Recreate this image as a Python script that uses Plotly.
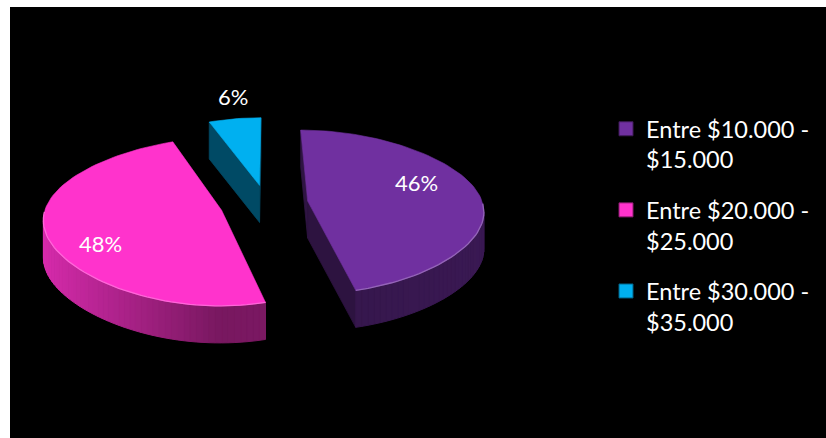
import numpy as np
import plotly.graph_objects as go

# ---- data ----
labels = ["Entre $10.000 - $15.000", "Entre $20.000 - $25.000", "Entre $30.000 - $35.000"]
values = [46, 48, 6]
colors = ["#7030A0", "#FF33CC", "#00B0F0"]

# ---- style / geometry (3D-pie projection) ----
pulls = [0.235, 0.27, 0.235]
label_r = [0.64, 0.7, 1.12]
label_z = [-0.32, 0.4, -0.42]
CX, CY, A, B, H = 267.0, 203.5, 175.0, 81.0, 37.0
PXa, PXb, PY = 0.125, 0.077, 0.132
W, HT = 826, 438
FONT = "Lato"


def rgb(h):
    h = h.lstrip("#")
    return [int(h[i:i + 2], 16) for i in (0, 2, 4)]


def shade(c, f):
    return "rgb(%d,%d,%d)" % tuple(max(0, min(255, int(round(v * f)))) for v in c)


def lighten(c, f):
    return "rgb(%d,%d,%d)" % tuple(int(round(v + (255 - v) * f)) for v in c)


def proj(X, Y, Z=0.0):
    X = np.asarray(X, dtype=float)
    Y = np.asarray(Y, dtype=float)
    x = CX + A * X / (1 + PXa * Y + PXb * Y * Y)
    y = CY - B * Y / (1 + PY * Y) + H * Z
    return x, y


fig = go.Figure()

total = float(sum(values))
fr = np.array(values, dtype=float) / total
ends = np.cumsum(fr) * 2 * np.pi
starts = np.concatenate([[0.0], ends[:-1]])
mids = (starts + ends) / 2
order = np.argsort(-np.cos(mids))  # back slices first


def poly(xs, ys, color, lw=0.8):
    fig.add_trace(go.Scatter(
        x=list(xs) + [xs[0]], y=list(ys) + [ys[0]], mode="lines",
        fill="toself", fillcolor=color, line=dict(color=color, width=lw),
        hoverinfo="skip", showlegend=False))


for i in order:
    base = rgb(colors[i])
    n = max(int(np.degrees(ends[i] - starts[i]) / 2) + 2, 4)
    th = np.linspace(starts[i], ends[i], n)
    ox, oy = pulls[i] * np.sin(mids[i]), pulls[i] * np.cos(mids[i])
    ax, ay = [float(v) for v in proj(ox, oy, 0)]
    axb, ayb = [float(v) for v in proj(ox, oy, 1)]
    X = ox + np.sin(th)
    Y = oy + np.cos(th)
    tx, ty = proj(X, Y, 0)
    bx, by = proj(X, Y, 1)
    px_ = np.concatenate([[ax], tx])
    py_ = np.concatenate([[ay], ty])
    gx, gy = px_.mean(), py_.mean()

    def visible(a, b):
        ex, ey = b[0] - a[0], b[1] - a[1]
        c1 = ex * (gy - a[1]) - ey * (gx - a[0])
        return abs(ex) > 1e-6 and np.sign(c1) != np.sign(ex)

    # radial walls
    if visible((ax, ay), (tx[0], ty[0])):
        poly([ax, tx[0], bx[0], axb], [ay, ty[0], by[0], ayb], shade(base, 0.42))
    if visible((tx[-1], ty[-1]), (ax, ay)):
        poly([ax, tx[-1], bx[-1], axb], [ay, ty[-1], by[-1], ayb], shade(base, 0.40))
    # outer wall segments (shaded)
    for k in range(n - 1):
        if visible((tx[k], ty[k]), (tx[k + 1], ty[k + 1])):
            s = np.sin((th[k] + th[k + 1]) / 2)
            f = 0.47 - 0.38 * s if s < 0 else 0.47 + 0.05 * s
            poly([tx[k], tx[k + 1], bx[k + 1], bx[k]], [ty[k], ty[k + 1], by[k + 1], by[k]],
                 shade(base, f), lw=1.0)
    # top face
    poly(list(px_), list(py_), colors[i], lw=0.6)
    # rim highlight on front arc
    front = np.cos(th) < 0
    if front.sum() > 1:
        fig.add_trace(go.Scatter(x=tx[front], y=ty[front], mode="lines",
                                 line=dict(color=lighten(base, 0.25), width=1.3),
                                 hoverinfo="skip", showlegend=False))

# percentage labels
for i in range(len(values)):
    ox, oy = pulls[i] * np.sin(mids[i]), pulls[i] * np.cos(mids[i])
    lx, ly = proj(ox + label_r[i] * np.sin(mids[i]), oy + label_r[i] * np.cos(mids[i]), label_z[i])
    fig.add_annotation(x=float(lx), y=float(ly), text="%d%%" % round(fr[i] * 100),
                       showarrow=False, font=dict(family=FONT, size=22, color="white"))

# legend entries
for i in range(len(values)):
    fig.add_trace(go.Scatter(
        x=[None], y=[None], mode="markers", name=labels[i].replace(" - ", " -<br>"),
        legendgroup=str(i),
        marker=dict(symbol="square", size=14, color=colors[i],
                    line=dict(color=shade(rgb(colors[i]), 0.55), width=1))))

fig.update_layout(
    width=W, height=HT,
    margin=dict(l=10, r=0, t=7, b=0, pad=0),
    paper_bgcolor="white", plot_bgcolor="black",
    xaxis=dict(range=[10, W], visible=False, fixedrange=True),
    yaxis=dict(range=[HT, 7], visible=False, fixedrange=True),
    showlegend=True,
    legend=dict(x=(606 - 10) / 816, y=1 - (107 - 7) / 431, xanchor="left", yanchor="top",
                font=dict(family=FONT, size=23.5, color="white"), valign="top",
                tracegroupgap=17, bgcolor="rgba(0,0,0,0)", itemsizing="trace"),
)

fig.write_html("out.html")
